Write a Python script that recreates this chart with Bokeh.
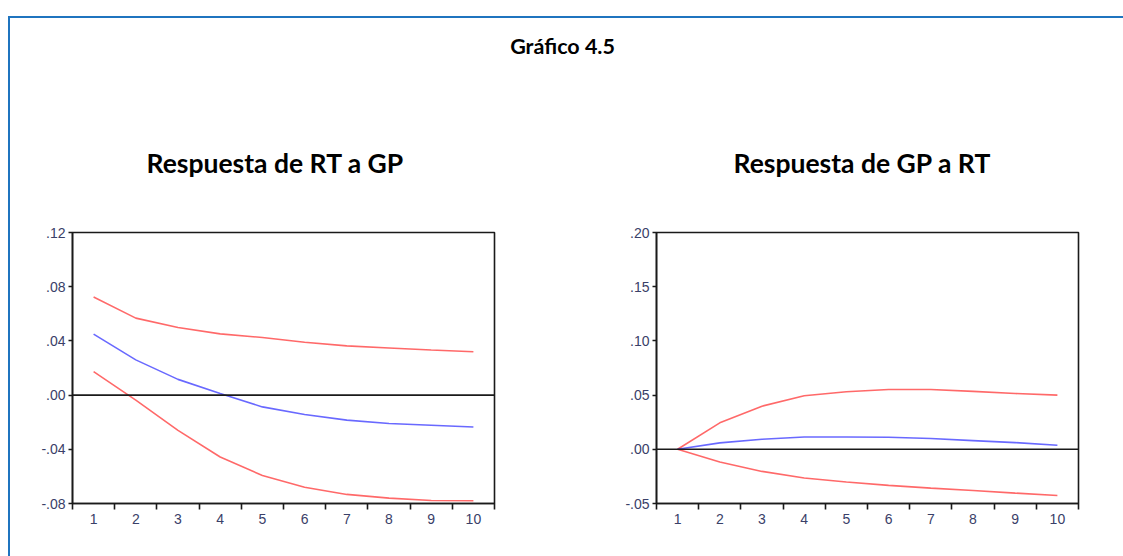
from bokeh.plotting import figure
from bokeh.layouts import column, row
from bokeh.models import Range1d, FixedTicker, Span, Label
from bokeh.embed import file_html
from bokeh.resources import INLINE

# ---- data ----
periods = [1, 2, 3, 4, 5, 6, 7, 8, 9, 10]

rt_gp_resp = [0.045, 0.026, 0.0116, 0.0012, -0.0087, -0.0143, -0.0185, -0.021, -0.0222, -0.0235]
rt_gp_upper = [0.0724, 0.0568, 0.0499, 0.0452, 0.0425, 0.039, 0.0363, 0.0348, 0.0333, 0.032]
rt_gp_lower = [0.0173, -0.0037, -0.026, -0.0457, -0.0593, -0.068, -0.0733, -0.076, -0.0778, -0.078]

gp_rt_resp = [0.0, 0.0059, 0.0093, 0.0114, 0.0114, 0.0111, 0.0099, 0.008, 0.0062, 0.0037]
gp_rt_upper = [0.0, 0.0244, 0.0398, 0.0494, 0.0531, 0.0552, 0.0552, 0.0534, 0.0515, 0.05]
gp_rt_lower = [0.0, -0.0117, -0.0204, -0.0265, -0.0302, -0.0333, -0.0358, -0.038, -0.0404, -0.0426]

x_boundaries = [0.5, 1.5, 2.5, 3.5, 4.5, 5.5, 6.5, 7.5, 8.5, 9.5, 10.5]

left_yticks = [-0.08, -0.04, 0.0, 0.04, 0.08, 0.12]
left_ylabels = ["-.08", "-.04", ".00", ".04", ".08", ".12"]
right_yticks = [-0.05, 0.0, 0.05, 0.10, 0.15, 0.20]
right_ylabels = ["-.05", ".00", ".05", ".10", ".15", ".20"]

main_title = "Gráfico 4.5"
left_title = "Respuesta de RT a GP"
right_title = "Respuesta de GP a RT"

TITLE_FONT = "Lato"
TICK_FONT = "Liberation Sans"
RED = "#ff2a2a"
BLUE = "#2a2aff"
TICK_COLOR = "#3a4068"


def panel(title, resp, upper, lower, yticks, ylabels, yrange, width, bl, br, toffset):
    p = figure(width=width, height=478, output_backend="svg", toolbar_location=None,
               x_range=Range1d(x_boundaries[0], x_boundaries[-1]),
               y_range=Range1d(*yrange),
               min_border_left=bl, min_border_right=br,
               min_border_top=154, min_border_bottom=53)
    p.title.text = title
    p.title.align = "left"
    p.title.text_font = TITLE_FONT
    p.title.text_font_size = "26.5px"
    p.title.text_font_style = "bold"
    p.title.text_color = "#000000"
    p.title.standoff = 108
    p.title.offset = toffset
    p.xgrid.visible = False
    p.ygrid.visible = False
    p.outline_line_color = "#1a1a1a"
    p.outline_line_width = 1.6
    p.outline_line_alpha = 1.0

    # x axis: labels at periods, ticks at boundaries
    p.xaxis.ticker = FixedTicker(ticks=periods, minor_ticks=x_boundaries)
    p.xaxis.major_tick_line_color = None
    p.xaxis.minor_tick_line_color = "#1a1a1a"
    p.xaxis.minor_tick_line_width = 1.6
    p.xaxis.minor_tick_out = 6
    p.xaxis.minor_tick_in = 0
    p.xaxis.axis_line_color = "#1a1a1a"
    p.xaxis.axis_line_width = 1.6
    p.xaxis.major_label_text_font = TICK_FONT
    p.xaxis.major_label_text_font_size = "14px"
    p.xaxis.major_label_text_color = TICK_COLOR
    p.xaxis.major_label_standoff = 4

    p.yaxis.ticker = FixedTicker(ticks=yticks, minor_ticks=[])
    p.yaxis.major_label_overrides = dict(zip(yticks, ylabels))
    p.yaxis.major_tick_line_color = "#1a1a1a"
    p.yaxis.major_tick_line_width = 1.6
    p.yaxis.major_tick_out = 4
    p.yaxis.major_tick_in = 0
    p.yaxis.minor_tick_line_color = None
    p.yaxis.axis_line_color = "#1a1a1a"
    p.yaxis.axis_line_width = 1.6
    p.yaxis.major_label_text_font = TICK_FONT
    p.yaxis.major_label_text_font_size = "14px"
    p.yaxis.major_label_text_color = TICK_COLOR
    p.yaxis.major_label_standoff = 3

    p.add_layout(Span(location=0, dimension="width", line_color="#1a1a1a", line_width=1.6))
    p.line(periods, upper, line_color=RED, line_width=1.6, line_alpha=0.7)
    p.line(periods, lower, line_color=RED, line_width=1.6, line_alpha=0.7)
    p.line(periods, resp, line_color=BLUE, line_width=1.6, line_alpha=0.7)
    return p


header = figure(width=1113, height=60, output_backend="svg", toolbar_location=None,
                x_range=Range1d(0, 1), y_range=Range1d(0, 1),
                min_border=0, outline_line_color=None)
header.axis.visible = False
header.xgrid.visible = False
header.ygrid.visible = False
header.add_layout(Label(x=0.496, y=0.55, text=main_title, text_align="center",
                        text_baseline="middle", text_font=TITLE_FONT,
                        text_font_size="21.5px", text_font_style="bold", text_color="#000000"))

p1 = panel(left_title, rt_gp_resp, rt_gp_upper, rt_gp_lower, left_yticks, left_ylabels,
           (-0.08, 0.12), 580, 62, 96, 74)
p2 = panel(right_title, gp_rt_resp, gp_rt_upper, gp_rt_lower, right_yticks, right_ylabels,
           (-0.05, 0.20), 533, 66, 45, 77)

layout = column(header, row(p1, p2, spacing=0), spacing=0,
                styles={"margin-top": "16px",
                        "margin-left": "8px",
                        "border-top": "2px solid #1f74bf",
                        "border-left": "2px solid #1f74bf"})

open("out.html", "w").write(file_html(layout, INLINE))
